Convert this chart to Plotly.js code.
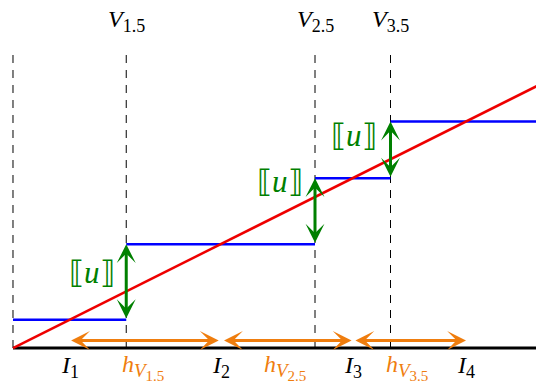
<!DOCTYPE html>
<html>
<head>
<meta charset="utf-8">
<script src="https://cdn.plot.ly/plotly-3.0.1.min.js"></script>
<style>
  html, body { margin: 0; padding: 0; background: #fff; }
  #plot { width: 536px; height: 385px; }
</style>
</head>
<body>
<div id="plot"></div>
<script>
// Piecewise-constant cell averages of a linear function on a 1D mesh.
const cellEdges   = [0, 3, 8, 10, 14];           // I1..I4 boundaries
const cellAvg     = [0.75, 2.75, 4.5, 6.0];       // blue step heights
const cellCenters = [1.5, 5.5, 9, 12];
const cellNames   = ['1', '2', '3', '4'];

const exactX = [0, 14];                           // red exact solution
const exactY = [0, 7];

const vertexX     = [0, 3, 8, 10];                // dashed mesh lines
const vertexTop   = 7.8;
const vertexNames = ['1.5', '2.5', '3.5'];        // interior vertices V_{i+1/2}

// jump arrows at interior vertices: [x, from, to]
const jumpX    = [3, 8, 10];
const jumpLow  = [0.75, 2.75, 4.5];
const jumpHigh = [2.75, 4.5, 6.0];
const jumpLabelX = [2.09, 7.07, 9.03];
const jumpLabelY = [2.01, 4.40, 5.62];

// dual cell widths h_V between neighbouring cell centres
const hStart = [1.5, 5.55, 9.03];
const hEnd   = [5.45, 8.97, 12.0];
const hLabelX = [3.45, 7.2, 10.45];
const hLevel  = 0.2;

const GREEN = '#008000', ORANGE = '#EF7D0E', BLUE = '#0000FF', RED = '#EE0000';
const FONT = 'Liberation Serif, Times New Roman, serif';

const traces = [];

// dashed vertical mesh lines
vertexX.forEach(v => traces.push({
  x: [v, v], y: [0, vertexTop], mode: 'lines', hoverinfo: 'skip',
  line: { color: '#000', width: 1, dash: '8px,7px' }
}));

// axis baseline
traces.push({
  x: [cellEdges[0], cellEdges[cellEdges.length - 1]], y: [0, 0],
  mode: 'lines', line: { color: '#000', width: 3 }, hoverinfo: 'skip'
});

// cell averages
for (let i = 0; i < cellAvg.length; i++) {
  traces.push({
    x: [cellEdges[i], cellEdges[i + 1]], y: [cellAvg[i], cellAvg[i]],
    mode: 'lines', line: { color: BLUE, width: 2.5 }, hoverinfo: 'skip'
  });
}

// exact linear solution
traces.push({
  x: exactX, y: exactY, mode: 'lines',
  line: { color: RED, width: 2.5 }, hoverinfo: 'skip'
});

const annotations = [];

function arrow(x0, y0, x1, y1, color) {
  annotations.push({
    x: x1, y: y1, ax: x0, ay: y0, xref: 'x', yref: 'y', axref: 'x', ayref: 'y',
    text: '', showarrow: true, arrowside: 'end+start',
    arrowhead: 3, startarrowhead: 3, arrowsize: 1.05, startarrowsize: 1.05,
    arrowwidth: 3, arrowcolor: color, standoff: 0, startstandoff: 0
  });
}

const sub = (s, px) => '<sub><span style="font-size:' + px + 'px">' + s + '</span></sub>';

for (let i = 0; i < jumpX.length; i++) {
  arrow(jumpX[i], jumpLow[i], jumpX[i], jumpHigh[i], GREEN);
  annotations.push({
    x: jumpLabelX[i], y: jumpLabelY[i], xref: 'x', yref: 'y', showarrow: false,
    text: '⟦<i>u</i>⟧', font: { family: FONT, size: 31, color: GREEN }
  });
}

for (let i = 0; i < hStart.length; i++) {
  arrow(hStart[i], hLevel, hEnd[i], hLevel, ORANGE);
  annotations.push({
    x: hLabelX[i], y: -0.52, xref: 'x', yref: 'y', showarrow: false,
    text: '<i>h</i><sub><span style="font-size:19px"><i>V</i></span>' +
          sub(vertexNames[i], 15) + '</sub>',
    font: { family: FONT, size: 24, color: ORANGE }
  });
}

for (let i = 0; i < cellCenters.length; i++) {
  annotations.push({
    x: cellCenters[i], y: -0.5, xref: 'x', yref: 'y', showarrow: false,
    text: '<i>I</i>' + sub(cellNames[i], 18),
    font: { family: FONT, size: 24, color: '#000' }
  });
}

for (let i = 0; i < vertexNames.length; i++) {
  annotations.push({
    x: vertexX[i + 1], y: 8.65, xref: 'x', yref: 'y', showarrow: false,
    text: '<i>V</i>' + sub(vertexNames[i], 18),
    font: { family: FONT, size: 24, color: '#000' }
  });
}

const hidden = { visible: false, showgrid: false, zeroline: false, fixedrange: true };

const layout = {
  width: 536, height: 385,
  margin: { l: 0, r: 0, t: 0, b: 0, pad: 0 },
  paper_bgcolor: '#fff', plot_bgcolor: '#fff',
  showlegend: false,
  xaxis: Object.assign({ range: [-0.344, 13.854] }, hidden),
  yaxis: Object.assign({ range: [-0.980, 9.219] }, hidden),
  annotations: annotations
};

Plotly.newPlot('plot', traces, layout, { staticPlot: true, displayModeBar: false });
</script>
</body>
</html>
